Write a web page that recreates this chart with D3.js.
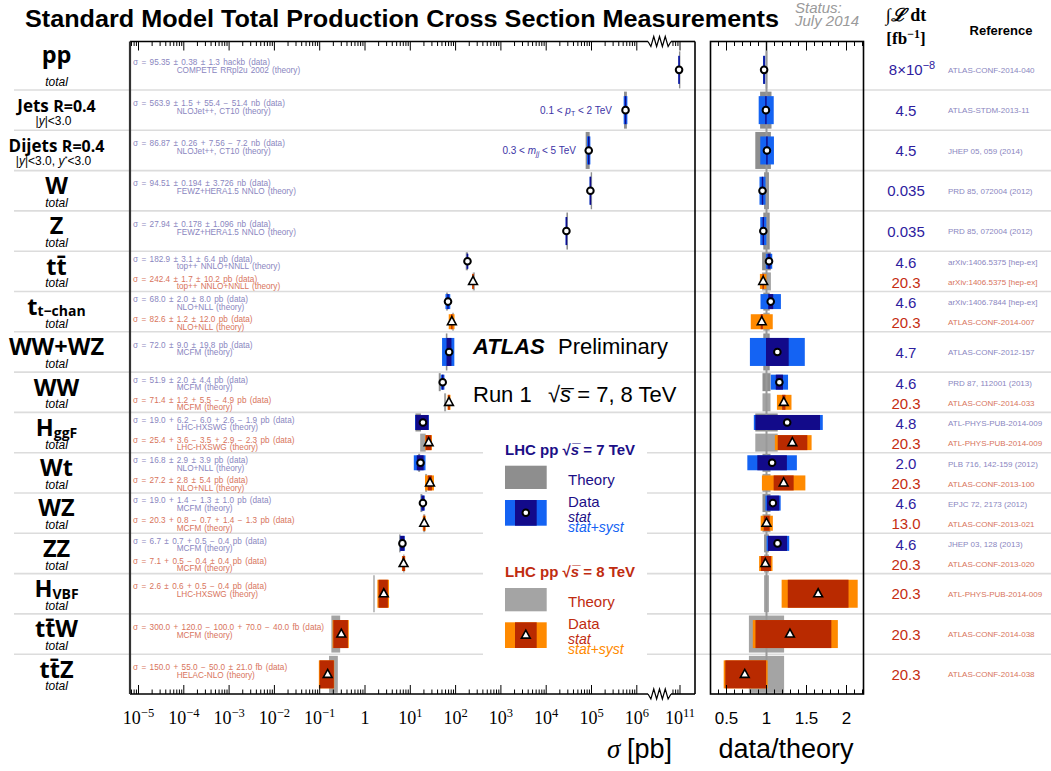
<!DOCTYPE html>
<html><head><meta charset="utf-8">
<script src="https://cdn.jsdelivr.net/npm/d3@7"></script>
<style>body{margin:0;background:#fff} svg{display:block}</style>
</head><body>
<svg id="c" width="1051" height="771"></svg>
<script>
// ================= DATA =================
const rowMain   = ["pp","Jets","Dijets","W","Z","tt\u0304","t","WW+WZ","WW","H","Wt","WZ","ZZ","H","tt\u0304W","tt\u0304Z"];
const rowSuffix = ["","R=0.4","R=0.4","","","","t\u2212chan","","","ggF","","","","VBF","",""];
const rowSecond = ["total","|y|<3.0","|y|<3.0, y*<3.0","total","total","total","total","total","total","total","total","total","total","total","total","total"];

const measRow    = [0,1,2,3,4,5,5,6,6,7,8,8,9,9,10,10,11,11,12,12,13,14,15];
const measEnergy = [7,7,7,7,7,7,8,7,8,7,7,8,7,8,7,8,7,8,7,8,8,8,8];
// cross sections in pb
const dataValue = [95.35e9,563.9e3,86.87e3,94.51e3,27.94e3,182.9,242.4,68.0,82.6,72.0,51.9,71.4,19.0,25.4,16.8,27.2,19.0,20.3,6.7,7.1,2.6,0.300,0.150];
const statUp    = [0.38e9,1.5e3,0.26e3,0.194e3,0.178e3,3.1,1.7,2.0,1.2,9.0,2.0,1.2,6.2,3.6,2.9,2.8,1.4,0.8,0.7,0.5,0.6,0.120,0.055];
const statDown  = [0.38e9,1.5e3,0.26e3,0.194e3,0.178e3,3.1,1.7,2.0,1.2,9.0,2.0,1.2,6.0,3.5,2.9,2.8,1.3,0.7,0.7,0.4,0.6,0.100,0.050];
const systUp    = [1.3e9,55.4e3,7.56e3,3.726e3,1.096e3,6.4,10.2,8.0,12.0,19.8,4.4,5.5,2.6,2.9,3.9,5.4,1.0,1.4,0.5,0.4,0.5,0.070,0.021];
const systDown  = [1.3e9,51.4e3,7.2e3,3.726e3,1.096e3,6.4,10.2,8.0,12.0,19.8,4.4,4.9,1.9,2.3,3.9,5.4,1.0,1.3,0.4,0.4,0.4,0.040,0.021];
const theoryValue = [98.3e9,568e3,86.4e3,99.5e3,29.1e3,177.3,252.9,64.6,87.8,63.4,44.7,58.7,15.1,19.2,15.7,22.4,17.6,20.3,5.89,7.2,1.58,0.232,0.206];
const theoryRelUp   = [0.004,0.0625,0.055,0.03,0.04,0.055,0.055,0.04,0.04,0.04,0.05,0.05,0.14,0.14,0.05,0.05,0.05,0.05,0.03,0.03,0.03,0.22,0.22];
const theoryRelDown = [0.004,0.08,0.14,0.03,0.04,0.055,0.055,0.04,0.04,0.04,0.05,0.05,0.14,0.14,0.05,0.05,0.05,0.05,0.03,0.03,0.03,0.22,0.22];

const dataText = [
"\u03c3 = 95.35 \u00b1 0.38 \u00b1 1.3 hackb (data)",
"\u03c3 = 563.9 \u00b1 1.5 + 55.4 \u2212 51.4 nb (data)",
"\u03c3 = 86.87 \u00b1 0.26 + 7.56 \u2212 7.2 nb (data)",
"\u03c3 = 94.51 \u00b1 0.194 \u00b1 3.726 nb (data)",
"\u03c3 = 27.94 \u00b1 0.178 \u00b1 1.096 nb (data)",
"\u03c3 = 182.9 \u00b1 3.1 \u00b1 6.4 pb (data)",
"\u03c3 = 242.4 \u00b1 1.7 \u00b1 10.2 pb (data)",
"\u03c3 = 68.0 \u00b1 2.0 \u00b1 8.0 pb (data)",
"\u03c3 = 82.6 \u00b1 1.2 \u00b1 12.0 pb (data)",
"\u03c3 = 72.0 \u00b1 9.0 \u00b1 19.8 pb (data)",
"\u03c3 = 51.9 \u00b1 2.0 \u00b1 4.4 pb (data)",
"\u03c3 = 71.4 \u00b1 1.2 + 5.5 \u2212 4.9 pb (data)",
"\u03c3 = 19.0 + 6.2 \u2212 6.0 + 2.6 \u2212 1.9 pb (data)",
"\u03c3 = 25.4 + 3.6 \u2212 3.5 + 2.9 \u2212 2.3 pb (data)",
"\u03c3 = 16.8 \u00b1 2.9 \u00b1 3.9 pb (data)",
"\u03c3 = 27.2 \u00b1 2.8 \u00b1 5.4 pb (data)",
"\u03c3 = 19.0 + 1.4 \u2212 1.3 \u00b1 1.0 pb (data)",
"\u03c3 = 20.3 + 0.8 \u2212 0.7 + 1.4 \u2212 1.3 pb (data)",
"\u03c3 = 6.7 \u00b1 0.7 + 0.5 \u2212 0.4 pb (data)",
"\u03c3 = 7.1 + 0.5 \u2212 0.4 \u00b1 0.4 pb (data)",
"\u03c3 = 2.6 \u00b1 0.6 + 0.5 \u2212 0.4 pb (data)",
"\u03c3 = 300.0 + 120.0 \u2212 100.0 + 70.0 \u2212 40.0 fb (data)",
"\u03c3 = 150.0 + 55.0 \u2212 50.0 \u00b1 21.0 fb (data)"];
const theoryText = ["COMPETE RRpl2u 2002 (theory)","NLOJet++, CT10 (theory)","NLOJet++, CT10 (theory)","FEWZ+HERA1.5 NNLO (theory)","FEWZ+HERA1.5 NNLO (theory)","top++ NNLO+NNLL (theory)","top++ NNLO+NNLL (theory)","NLO+NLL (theory)","NLO+NLL (theory)","MCFM (theory)","MCFM (theory)","MCFM (theory)","LHC-HXSWG (theory)","LHC-HXSWG (theory)","NLO+NLL (theory)","NLO+NLL (theory)","MCFM (theory)","MCFM (theory)","MCFM (theory)","MCFM (theory)","LHC-HXSWG (theory)","MCFM (theory)","HELAC-NLO (theory)"];
const lumiText = ["8\u00d710^\u22128","4.5","4.5","0.035","0.035","4.6","20.3","4.6","20.3","4.7","4.6","20.3","4.8","20.3","2.0","20.3","4.6","13.0","4.6","20.3","20.3","20.3","20.3"];
const refText = ["ATLAS-CONF-2014-040","ATLAS-STDM-2013-11","JHEP 05, 059 (2014)","PRD 85, 072004 (2012)","PRD 85, 072004 (2012)","arXiv:1406.5375 [hep-ex]","arXiv:1406.5375 [hep-ex]","arXiv:1406.7844 [hep-ex]","ATLAS-CONF-2014-007","ATLAS-CONF-2012-157","PRD 87, 112001 (2013)","ATLAS-CONF-2014-033","ATL-PHYS-PUB-2014-009","ATL-PHYS-PUB-2014-009","PLB 716, 142-159 (2012)","ATLAS-CONF-2013-100","EPJC 72, 2173 (2012)","ATLAS-CONF-2013-021","JHEP 03, 128 (2013)","ATLAS-CONF-2013-020","ATL-PHYS-PUB-2014-009","ATLAS-CONF-2014-038","ATLAS-CONF-2014-038"];

const mainDecades = [-5,-4,-3,-2,-1,0,1,2,3,4,5,6,11];
const ratioTickLabels = [0.5,1,1.5,2];

// ================= LAYOUT =================
const svg = d3.select("#c");
const SANS = "'Liberation Sans', Arial, Helvetica, sans-serif";
const SERIF = "'Liberation Serif', 'Times New Roman', serif";
const LBL = "'Open Sans', 'DejaVu Sans', sans-serif";
const mainL=130, mainR=695, frameTop=41.5, frameBot=694;
const breakL=648, breakR=671;
const ratioL=710.5, ratioR=863.5;
const rowTop=49.7, rowH=40.3;
const decadePx=45.3, xOne=365, xTen11=680;

const sLow  = d3.scaleLog().domain([10**((mainL-xOne)/decadePx), 10**((breakL-xOne)/decadePx)]).range([mainL, breakL]);
const sHigh = d3.scaleLog().domain([10**(11+(breakR-xTen11)/decadePx), 10**(11+(mainR-xTen11)/decadePx)]).range([breakR, mainR]);
const xMain = v => v > 1e8 ? sHigh(v) : sLow(v);
const xRatio = d3.scaleLinear().domain([0.3, 2.2125]).range([ratioL, ratioR]);
const yRow = d3.scaleLinear().domain([0,16]).range([rowTop, rowTop+16*rowH]);

const col = {
  7:{dark:"#120a8a", light:"#1463f3", th:"#8e8e8e", txt:"#8a86c0", lumi:"#2d209e", title:"#1c0f87"},
  8:{dark:"#b92a00", light:"#ff8a00", th:"#a4a4a4", txt:"#d8745c", lumi:"#c52d12", title:"#c02c10"}
};

// measurement vertical slot
const rowCount = d3.rollup(measRow, v=>v.length, d=>d);
const meas = measRow.map((r,i)=>{
  const two = rowCount.get(r) === 2;
  const top = yRow(r);
  const cy = two ? (measEnergy[i]===7 ? top+rowH*0.25 : top+rowH*0.75) : top+rowH/2;
  const totUp = Math.hypot(statUp[i], systUp[i]);
  const totDn = Math.hypot(statDown[i], systDown[i]);
  return {i, r, e:measEnergy[i], two, top, cy, v:dataValue[i], sU:statUp[i], sD:statDown[i], tU:totUp, tD:totDn,
          th:theoryValue[i], thU:theoryRelUp[i], thD:theoryRelDown[i],
          dH: two?15:28, tH: two?18:37};
});

// ---------- row separator lines ----------
const sepG = svg.append("g");
d3.range(1,16).forEach(k=>{
  sepG.append("line").attr("x1",14).attr("x2",1051).attr("y1",yRow(k)).attr("y2",yRow(k))
    .attr("stroke","#dcdcdc").attr("stroke-width",1.6);
});
// legend background (interrupts lines)
svg.append("rect").attr("x",483).attr("y",418).attr("width",164).attr("height",246).attr("fill","#fff");

// ---------- boxes helper ----------
function hbox(g, x1, x2, cy, h, fill){
  let a=Math.min(x1,x2), b=Math.max(x1,x2);
  if (b-a < 1.4){ const m=(a+b)/2; a=m-0.7; b=m+0.7; }
  g.append("rect").attr("x",a).attr("y",cy-h/2).attr("width",b-a).attr("height",h).attr("fill",fill);
}
function marker(g, x, y, e){
  if (e===7){
    g.append("circle").attr("cx",x).attr("cy",y).attr("r",3.3).attr("fill","#fff").attr("stroke","#000").attr("stroke-width",2);
  } else {
    g.append("path").attr("d",`M${x},${y-5} L${x+4.4},${y+3} L${x-4.4},${y+3} Z`).attr("fill","#fff").attr("stroke","#000").attr("stroke-width",1.6).attr("stroke-linejoin","miter");
  }
}

// ---------- main panel ----------
const mg = svg.append("g");
meas.forEach(m=>{
  hbox(mg, xMain(m.th*(1-m.thD)), xMain(m.th*(1+m.thU)), m.cy, m.tH, col[m.e].th);
});
meas.forEach(m=>{
  hbox(mg, xMain(m.v-m.tD), xMain(m.v+m.tU), m.cy, m.dH, col[m.e].light);
  hbox(mg, xMain(m.v-m.sD), xMain(m.v+m.sU), m.cy, m.dH, col[m.e].dark);
});
meas.forEach(m=> marker(mg, xMain(m.v), m.cy, m.e));

// ---------- ratio panel ----------
const rg = svg.append("g");
meas.forEach(m=>{
  hbox(rg, xRatio(1-m.thD), xRatio(1+m.thU), m.cy, m.tH, col[m.e].th);
});
rg.append("line").attr("x1",xRatio(1)).attr("x2",xRatio(1)).attr("y1",frameTop).attr("y2",frameBot)
  .attr("stroke","#999").attr("stroke-width",2);
meas.forEach(m=>{
  hbox(rg, xRatio((m.v-m.tD)/m.th), xRatio((m.v+m.tU)/m.th), m.cy, m.dH, col[m.e].light);
  hbox(rg, xRatio((m.v-m.sD)/m.th), xRatio((m.v+m.sU)/m.th), m.cy, m.dH, col[m.e].dark);
});
meas.forEach(m=> marker(rg, xRatio(m.v/m.th), m.cy, m.e));

// ---------- frames ----------
const fg = svg.append("g").attr("fill","none").attr("stroke","#000").attr("stroke-width",1.6);
function zig(y){
  const pts=[[breakL,y]]; const n=8;
  for(let k=1;k<n;k++) pts.push([breakL+(breakR-breakL)*k/n, y + (k%2? 5:-5)]);
  pts.push([breakR,y]);
  return d3.line()(pts);
}
[frameTop, frameBot].forEach(y=>{
  fg.append("line").attr("x1",mainL).attr("x2",breakL).attr("y1",y).attr("y2",y);
  fg.append("line").attr("x1",breakR).attr("x2",mainR).attr("y1",y).attr("y2",y);
  fg.append("path").attr("d",zig(y)).attr("stroke-width",1.2);
});
fg.append("line").attr("x1",mainL).attr("x2",mainL).attr("y1",frameTop).attr("y2",frameBot).attr("stroke","#333").attr("stroke-width",2.2);
fg.append("line").attr("x1",mainR).attr("x2",mainR).attr("y1",frameTop).attr("y2",frameBot);
fg.append("rect").attr("x",ratioL).attr("y",frameTop).attr("width",ratioR-ratioL).attr("height",frameBot-frameTop);

// ---------- ticks ----------
const tg = svg.append("g").attr("stroke","#000").attr("stroke-width",1);
const mainTicks=[];
for(let n=-6;n<=6;n++) for(let k=1;k<=9;k++){ const v=k*10**n; const [a,b]=sLow.domain(); if(v>=a*1.0001 && v<=b) mainTicks.push({x:sLow(v), major:k===1}); }
for(let n=10;n<=11;n++) for(let k=1;k<=9;k++){ const v=k*10**n; const [a]=sHigh.domain(); if(v>=a && v<=1e11*1.0001) mainTicks.push({x:sHigh(v), major:k===1}); }
const ratioTicks = d3.range(3,23).map(k=>({x:xRatio(k/10), major:k%5===0}));
[...mainTicks, ...ratioTicks].forEach(t=>{
  const L = t.major?9:4.5;
  tg.append("line").attr("x1",t.x).attr("x2",t.x).attr("y1",frameTop).attr("y2",frameTop+L);
  tg.append("line").attr("x1",t.x).attr("x2",t.x).attr("y1",frameBot).attr("y2",frameBot-L);
});

// ---------- tick labels ----------
const al = svg.append("g").attr("font-family",SERIF).attr("font-size",18).attr("fill","#000").attr("text-anchor","middle");
mainDecades.forEach(n=>{
  const x = n===11 ? sHigh(1e11) : sLow(10**n);
  const t = al.append("text").attr("x",x).attr("y",724);
  if (n===0) t.text("1");
  else { t.append("tspan").text("10"); t.append("tspan").attr("dy",-7).attr("font-size",12.5).text(n<0?"\u2212"+(-n):String(n)); }
});
const rl = svg.append("g").attr("font-family",SANS).attr("font-size",17).attr("text-anchor","middle");
ratioTickLabels.forEach(v=> rl.append("text").attr("x",xRatio(v)).attr("y",724).text(String(v)));

svg.append("text").attr("x",672).attr("y",758).attr("text-anchor","end").attr("font-size",27)
  .call(t=>{ t.append("tspan").attr("font-family",SERIF).attr("font-style","italic").text("\u03c3 "); t.append("tspan").attr("font-family",SANS).text("[pb]"); });
svg.append("text").attr("x",786).attr("y",758).attr("text-anchor","middle").attr("font-family",SANS).attr("font-size",27).text("data/theory");

// ---------- title ----------
svg.append("text").attr("x",25).attr("y",27).attr("font-family",SANS).attr("font-weight","bold").attr("font-size",23)
  .attr("textLength",754).attr("lengthAdjust","spacingAndGlyphs").text("Standard Model Total Production Cross Section Measurements");
svg.append("text").attr("x",795).attr("y",13).attr("font-family",SANS).attr("font-style","italic").attr("font-size",15).attr("fill","#9a9a9a").text("Status:");
svg.append("text").attr("x",795).attr("y",26).attr("font-family",SANS).attr("font-style","italic").attr("font-size",15).attr("fill","#9a9a9a").text("July 2014");

// header right
const hd = svg.append("text").attr("x",906).attr("y",21).attr("text-anchor","middle").attr("font-family",SERIF).attr("font-weight","bold").attr("font-size",18);
hd.append("tspan").attr("font-weight","normal").text("\u222b");
hd.append("tspan").attr("font-style","italic").text("\u2112");
hd.append("tspan").text(" dt");
const hd2 = svg.append("text").attr("x",906).attr("y",44).attr("text-anchor","middle").attr("font-family",SERIF).attr("font-weight","bold").attr("font-size",17);
hd2.append("tspan").text("[fb");
hd2.append("tspan").attr("dy",-6).attr("font-size",12).text("\u22121");
hd2.append("tspan").attr("dy",6).text("]");
svg.append("text").attr("x",1001).attr("y",35).attr("text-anchor","middle").attr("font-family",SANS).attr("font-weight","bold").attr("font-size",13).text("Reference");

// ---------- annotations, lumi, refs ----------
const tx = svg.append("g").attr("font-family",SANS);
meas.forEach(m=>{
  const c = col[m.e];
  const o1 = m.two ? (m.e===7?7.5:27.5) : 12.8;
  const o2 = m.two ? (m.e===7?15.1:35.1) : 20.7;
  tx.append("text").attr("x",133).attr("y",m.top+o1+2.9).attr("font-size",8.2).attr("word-spacing",1.1).attr("fill",c.txt).text(dataText[m.i]);
  tx.append("text").attr("x",176.7).attr("y",m.top+o2+2.9).attr("font-size",8.2).attr("word-spacing",0.8).attr("fill",c.txt).text(theoryText[m.i]);
  const lc = m.two ? (m.e===7?11:31) : 20.3;
  const lt = tx.append("text").attr("x",906).attr("y",m.top+lc+5.4).attr("font-size",15).attr("text-anchor","middle").attr("fill",c.lumi);
  const s = lumiText[m.i];
  if (s.includes("^")) { const [a,b]=s.split("^"); lt.attr("x",912); lt.append("tspan").text(a); lt.append("tspan").attr("dy",-6).attr("font-size",11).text(b); }
  else lt.text(s);
  tx.append("text").attr("x",948).attr("y",m.top+lc+2.9).attr("font-size",8).attr("fill",c.txt).text(refText[m.i]);
});

// kinematic ranges
const kin = svg.append("g").attr("font-family",SANS).attr("font-size",10).attr("fill","#3d34a6").attr("text-anchor","end");
kin.append("text").attr("x",612).attr("y",113.5).call(t=>{
  t.append("tspan").text("0.1 < "); t.append("tspan").attr("font-style","italic").text("p");
  t.append("tspan").attr("dy",2).attr("font-size",7).text("T"); t.append("tspan").attr("dy",-2).text(" < 2 TeV");});
kin.append("text").attr("x",576).attr("y",153.5).call(t=>{
  t.append("tspan").text("0.3 < "); t.append("tspan").attr("font-style","italic").text("m");
  t.append("tspan").attr("dy",2).attr("font-size",7).attr("font-style","italic").text("jj"); t.append("tspan").attr("dy",-2).text(" < 5 TeV");});

// ---------- left row labels ----------
const lg = svg.append("g").attr("font-family",LBL).attr("text-anchor","middle");
rowMain.forEach((name,r)=>{
  const top=yRow(r), cx=56.5;
  if (r===1 || r===2){
    const t = lg.append("text").attr("x",cx).attr("y",top+21.6).attr("font-weight","bold");
    t.append("tspan").attr("font-size",17).text(name+" ");
    t.append("tspan").attr("font-size",16).text(rowSuffix[r]);
    const s = lg.append("text").attr("x",cx-3).attr("y",top+35).attr("font-family",SANS).attr("font-size",12);
    if (r===1){ s.append("tspan").text("|"); s.append("tspan").attr("font-style","italic").text("y"); s.append("tspan").text("|<3.0"); }
    else { s.append("tspan").text("|"); s.append("tspan").attr("font-style","italic").text("y"); s.append("tspan").text("|<3.0, ");
           s.append("tspan").attr("font-style","italic").text("y"); s.append("tspan").attr("dy",-4).attr("font-size",8).text("*");
           s.append("tspan").attr("dy",4).text("<3.0"); }
    return;
  }
  const base = r===0 ? top+13.5 : top+23.4;
  const t = lg.append("text").attr("x",cx).attr("y",base).attr("font-weight","bold").attr("font-size",23.5);
  t.append("tspan").text(name);
  if (rowSuffix[r]) t.append("tspan").attr("font-size",14).attr("dy",rowSuffix[r]==="t\u2212chan"?1:2).text(rowSuffix[r]);
  lg.append("text").attr("x",cx).attr("y",top+36.2).attr("font-family",SANS).attr("font-style","italic").attr("font-size",12).text(rowSecond[r]);
});

// ---------- ATLAS labels ----------
svg.append("text").attr("x",473).attr("y",354).attr("font-family",SANS).attr("font-weight","bold").attr("font-style","italic").attr("font-size",22).text("ATLAS");
svg.append("text").attr("x",558).attr("y",354).attr("font-family",SANS).attr("font-size",22).text("Preliminary");
svg.append("text").attr("x",473).attr("y",402).attr("font-family",SANS).attr("font-size",22).text("Run 1");
svg.append("text").attr("x",548).attr("y",402).attr("font-family",SANS).attr("font-size",22)
  .call(t=>{ t.append("tspan").text("\u221a"); t.append("tspan").attr("font-style","italic").text("s\u0305"); t.append("tspan").text(" = 7, 8 TeV"); });

// ---------- legend ----------
const leg = svg.append("g").attr("font-family",SANS);
function legendBlock(e, y0){
  const c = col[e];
  leg.append("text").attr("x",505).attr("y",y0).attr("font-weight","bold").attr("font-size",15).attr("fill",c.title)
    .call(t=>{ t.append("tspan").text("LHC pp  \u221a"); t.append("tspan").attr("font-style","italic").text("s\u0305"); t.append("tspan").text(" = "+e+" TeV"); });
  leg.append("rect").attr("x",505).attr("y",y0+10.7).attr("width",41.7).attr("height",23.3).attr("fill",c.th);
  leg.append("text").attr("x",568).attr("y",y0+30).attr("font-size",15).attr("fill",c.title).text("Theory");
  leg.append("rect").attr("x",505).attr("y",y0+45).attr("width",41.7).attr("height",25.7).attr("fill",c.light);
  leg.append("rect").attr("x",515).attr("y",y0+45).attr("width",21.7).attr("height",25.7).attr("fill",c.dark);
  marker(leg, 525.8, y0+57.8, e);
  leg.append("text").attr("x",568).attr("y",y0+51.7).attr("font-size",15).attr("fill",c.title).text("Data");
  leg.append("text").attr("x",568).attr("y",y0+66.7).attr("font-size",14).attr("font-style","italic").attr("fill",c.title).text("stat");
  leg.append("text").attr("x",568).attr("y",y0+76.7).attr("font-size",14).attr("font-style","italic").attr("fill",c.light).text("stat+syst");
}
legendBlock(7, 455);
legendBlock(8, 577.3);
</script>
</body></html>
